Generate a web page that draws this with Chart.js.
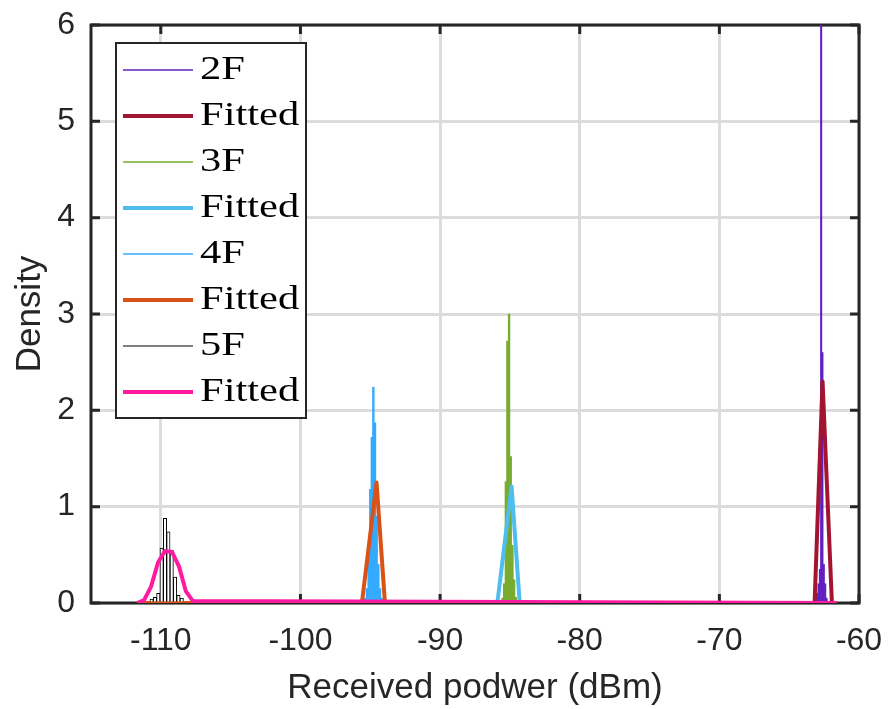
<!DOCTYPE html>
<html>
<head>
<meta charset="utf-8">
<script src="https://cdn.jsdelivr.net/npm/chart.js@4.4.0/dist/chart.umd.min.js"></script>
<style>
    html, body { margin: 0; padding: 0; background: #ffffff; }
</style>
</head>
<body>
<canvas id="densityChart" width="890" height="709"></canvas>
<script>
// axis ticks
const xTickValues = [-110, -100, -90, -80, -70, -60];
const yTickValues = [0, 1, 2, 3, 4, 5, 6];

// histogram bins (centre, density)
const hist2F_x = [-63.1, -63.0, -62.9, -62.8, -62.71, -62.62, -62.52, -62.42, -62.32];
const hist2F_y = [0.05, 0.1, 0.2, 0.35, 7.0, 2.6, 0.4, 0.2, 0.05];
const hist3F_x = [-85.53, -85.41, -85.29, -85.18, -85.06, -84.94, -84.82, -84.70, -84.58];
const hist3F_y = [0.05, 0.2, 1.26, 2.72, 3.0, 1.52, 0.6, 0.24, 0.06];
const hist4F_x = [-95.36, -95.24, -95.12, -95.0, -94.89, -94.78, -94.66, -94.54, -94.42, -94.30, -94.18];
const hist4F_y = [0.05, 0.15, 0.45, 1.18, 1.72, 2.24, 1.87, 0.9, 0.4, 0.15, 0.05];
const hist5F_x = [-110.66, -110.42, -110.18, -109.94, -109.70, -109.46, -109.22, -108.98, -108.74, -108.50];
const hist5F_y = [0.04, 0.06, 0.1, 0.57, 0.88, 0.74, 0.55, 0.27, 0.08, 0.05];

// fitted curves
const fit2F_x = [-111.7, -63.18, -62.61, -61.94, -61.6];
const fit2F_y = [0, 0, 2.3, 0, 0];
const fit3F_x = [-111.7, -85.9, -84.88, -84.3, -61.6];
const fit3F_y = [0, 0, 1.21, 0, 0];
const fit4F_x = [-111.7, -95.6, -94.55, -93.95, -61.6];
const fit4F_y = [0, 0, 1.25, 0, 0];
const fit5F_x = [-111.7, -111.2, -110.7, -110.2, -109.7, -109.2, -108.7, -108.2, -107.7, -61.6];
const fit5F_y = [0, 0.03, 0.17, 0.42, 0.54, 0.53, 0.38, 0.12, 0.02, 0];

const labels = ['2F', 'Fitted', '3F', 'Fitted', '4F', 'Fitted', '5F', 'Fitted'];

const axisColor = '#262626';
const gridColor = '#dcdcdc';

function pts(xs, ys) {
    return xs.map((x, i) => ({ x: x, y: ys[i] }));
}

function histSet(label, xs, ys, color, fill, thick, order) {
    return {
        type: 'bar',
        label: label,
        data: pts(xs, ys),
        backgroundColor: fill,
        borderColor: color,
        borderWidth: fill === color ? 0 : 1,
        barThickness: thick,
        grouped: false,
        order: order,
        legendWidth: 1.5
    };
}

function fitSet(label, xs, ys, color, order) {
    return {
        type: 'line',
        label: label,
        data: pts(xs, ys),
        borderColor: color,
        backgroundColor: color,
        borderWidth: 4,
        borderJoinStyle: 'round',
        pointRadius: 0,
        tension: 0,
        fill: false,
        order: order,
        legendWidth: 4
    };
}

// chart.js adds tick padding to the scale padding, drop it so the plot box stays put
function noPad(scale) {
    scale.paddingTop = 0;
    scale.paddingBottom = 0;
    scale.paddingLeft = 0;
    scale.paddingRight = 0;
}

// MATLAB style box, inward ticks and a boxed legend
const matlabFrame = {
    id: 'matlabFrame',
    beforeDatasetsDraw(chart) {
        const { ctx, chartArea: a, scales } = chart;
        ctx.save();
        ctx.strokeStyle = axisColor;
        ctx.lineWidth = 3;
        ctx.beginPath();
        xTickValues.forEach(v => {
            const px = scales.x.getPixelForValue(v);
            ctx.moveTo(px, a.bottom); ctx.lineTo(px, a.bottom - 9);
            ctx.moveTo(px, a.top); ctx.lineTo(px, a.top + 9);
        });
        yTickValues.forEach(v => {
            const py = scales.y.getPixelForValue(v);
            ctx.moveTo(a.left, py); ctx.lineTo(a.left + 9, py);
            ctx.moveTo(a.right, py); ctx.lineTo(a.right - 9, py);
        });
        ctx.stroke();
        ctx.strokeRect(a.left, a.top, a.right - a.left, a.bottom - a.top);
        ctx.restore();
    },
    afterDatasetsDraw(chart) {
        const ctx = chart.ctx;
        ctx.save();
        ctx.fillStyle = '#ffffff';
        ctx.fillRect(116, 43, 190, 375);
        ctx.strokeStyle = axisColor;
        ctx.lineWidth = 2;
        ctx.strokeRect(116, 43, 190, 375);
        ctx.font = '34px "Liberation Serif", "Times New Roman", serif';
        ctx.textBaseline = 'alphabetic';
        chart.data.datasets.forEach((ds, i) => {
            const y = 70 + i * 46;
            ctx.strokeStyle = ds.legendColor || ds.borderColor;
            ctx.lineWidth = ds.legendWidth;
            ctx.beginPath();
            ctx.moveTo(123, y);
            ctx.lineTo(193, y);
            ctx.stroke();
            ctx.save();
            ctx.translate(200, y + 9);
            ctx.scale(1.25, 1);
            ctx.fillStyle = '#000000';
            ctx.fillText(ds.label, 0, 0);
            ctx.restore();
        });
        ctx.restore();
    }
};

const ds2F = histSet(labels[0], hist2F_x, hist2F_y, '#6020c0', '#6020c0', 1.4, 8);
const ds3F = histSet(labels[2], hist3F_x, hist3F_y, '#77ac30', '#77ac30', 1.7, 6);
const ds4F = histSet(labels[4], hist4F_x, hist4F_y, '#33aaff', '#33aaff', 1.7, 4);
const ds5F = histSet(labels[6], hist5F_x, hist5F_y, '#000000', '#ffffff', 3.4, 2);
ds5F.legendColor = '#555555';

new Chart(document.getElementById('densityChart'), {
    type: 'bar',
    data: {
        datasets: [
            ds2F,
            fitSet(labels[1], fit2F_x, fit2F_y, '#a2142f', 7),
            ds3F,
            fitSet(labels[3], fit3F_x, fit3F_y, '#4dbeee', 5),
            ds4F,
            fitSet(labels[5], fit4F_x, fit4F_y, '#d95319', 3),
            ds5F,
            fitSet(labels[7], fit5F_x, fit5F_y, '#ff1ba0', 1)
        ]
    },
    options: {
        responsive: false,
        animation: false,
        layout: { padding: { top: 25, right: 31, left: 0, bottom: 0 } },
        plugins: {
            legend: { display: false },
            tooltip: { enabled: false }
        },
        scales: {
            x: {
                type: 'linear',
                min: -115,
                max: -60,
                offset: false,
                afterBuildTicks: scale => {
                    scale.ticks = xTickValues.map(v => ({ value: v }));
                },
                afterFit: scale => { scale.height = 106; noPad(scale); },
                grid: { color: gridColor, lineWidth: 3, drawTicks: false, offset: false },
                border: { display: false },
                ticks: {
                    color: axisColor,
                    padding: 19,
                    maxRotation: 0,
                    font: { family: '"Liberation Sans", Arial, sans-serif', size: 32 }
                },
                title: {
                    display: true,
                    text: 'Received podwer (dBm)',
                    color: axisColor,
                    padding: { top: 0, bottom: 0 },
                    font: { family: '"Liberation Sans", Arial, sans-serif', size: 35 }
                }
            },
            y: {
                min: 0,
                max: 6,
                afterBuildTicks: scale => {
                    scale.ticks = yTickValues.map(v => ({ value: v }));
                },
                afterFit: scale => { scale.width = 91; noPad(scale); },
                grid: { color: gridColor, lineWidth: 3, drawTicks: false },
                border: { display: false },
                ticks: {
                    color: axisColor,
                    padding: 16,
                    font: { family: '"Liberation Sans", Arial, sans-serif', size: 32 }
                },
                title: {
                    display: true,
                    text: 'Density',
                    color: axisColor,
                    padding: { top: 9, bottom: 0 },
                    font: { family: '"Liberation Sans", Arial, sans-serif', size: 35 }
                }
            }
        }
    },
    plugins: [matlabFrame]
});
</script>
</body>
</html>
